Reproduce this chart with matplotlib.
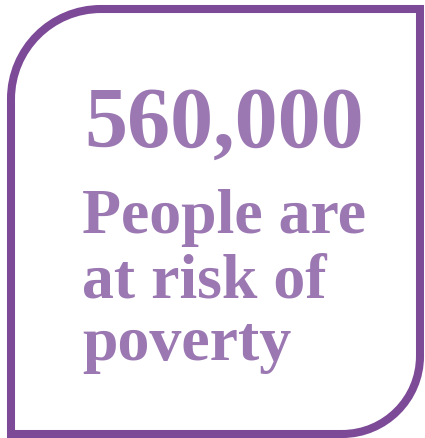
import matplotlib
matplotlib.use("Agg")
import matplotlib.pyplot as plt
from matplotlib.path import Path
from matplotlib.patches import PathPatch

# Content of the infographic tile
headline = "560,000"
caption_lines = ["People are", "at risk of", "poverty"]

border_color = "#7d4a98"
text_color = "#9b78b2"

fig = plt.figure(figsize=(4.25, 4.38), dpi=100)
ax = fig.add_axes([0, 0, 1, 1])
ax.set_xlim(0, 425)
ax.set_ylim(438, 0)
ax.axis("off")

# Frame: rounded top-left and bottom-right corners, square elsewhere
L, R, T, B = 11, 420, 9, 434
r1, r2, k = 90, 78, 0.5523
verts = [
    (L + r1, T), (R, T), (R, B - r2),
    (R, B - r2 + k * r2), (R - r2 + k * r2, B), (R - r2, B),
    (L, B), (L, T + r1),
    (L, T + r1 - k * r1), (L + r1 - k * r1, T), (L + r1, T),
    (L + r1, T),
]
codes = [Path.MOVETO, Path.LINETO, Path.LINETO,
         Path.CURVE4, Path.CURVE4, Path.CURVE4,
         Path.LINETO, Path.LINETO,
         Path.CURVE4, Path.CURVE4, Path.CURVE4,
         Path.CLOSEPOLY]
frame = PathPatch(Path(verts, codes), facecolor="white", edgecolor=border_color,
                  linewidth=5.8, joinstyle="miter")
ax.add_patch(frame)

font = dict(family="Liberation Serif", weight="bold", color=text_color)
ax.text(84, 147, headline, fontsize=62, va="baseline", ha="left", **font)

baselines = [233, 297, 360]
for line, y in zip(caption_lines, baselines):
    ax.text(82, y, line, fontsize=46, va="baseline", ha="left", **font)

fig.savefig("out.png", dpi=100)
